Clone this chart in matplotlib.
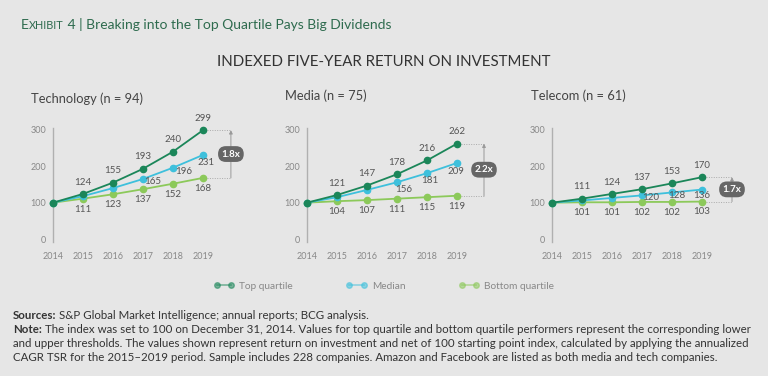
import matplotlib
matplotlib.use("Agg")
import matplotlib.pyplot as plt
from matplotlib.lines import Line2D

plt.rcParams['font.family'] = ['Lato', 'DejaVu Sans']

# data
years = [2014, 2015, 2016, 2017, 2018, 2019]
panels = ["Technology (n = 94)", "Media (n = 75)", "Telecom (n = 61)"]
top_quartile = [
    [100, 124, 155, 193, 240, 299],
    [100, 121, 147, 178, 216, 262],
    [100, 111, 124, 137, 153, 170],
]
median = [
    [100, 118, 140, 165, 196, 231],
    [100, 115, 135, 156, 181, 209],
    [100, 106, 113, 120, 128, 136],
]
bottom_quartile = [
    [100, 111, 123, 137, 152, 168],
    [100, 104, 107, 111, 115, 119],
    [100, 101, 101, 102, 102, 103],
]
series_names = ["Top quartile", "Median", "Bottom quartile"]

# styling
BG = "#e6e6e6"
C_TOP = "#1b8659"
C_MED = "#3ec0dc"
C_BOT = "#8cc95a"
TXT = "#555555"
W, H = 768, 376

# label offsets (px) for median values at 2017-2019
median_offsets = [
    [(10, -3), (11, -4), (3, -8)],
    [(7, -7), (3, -7), (-1, -9)],
    [(9, -2), (5, -3), (0, -6)],
]
axes_left_px = [53, 307, 552]
bracket_x = [2019.93, 2019.9, 2020.0]
title_x_px = [31, 285, 531]
title_y_px = [99, 96, 96]

fig = plt.figure(figsize=(W / 100, H / 100), dpi=100, facecolor=BG)
px = 72 / 100  # points per pixel

for i in range(3):
    ax = fig.add_axes([axes_left_px[i] / W, (H - 242) / H, 195 / W, 114 / H])
    ax.set_facecolor(BG)
    ax.set_xlim(2014, 2020.5)
    ax.set_ylim(-8, 305)
    for s in ["top", "right", "bottom"]:
        ax.spines[s].set_visible(False)
    ax.spines["left"].set_color("#b0b0b0")
    ax.spines["left"].set_linewidth(1)
    ax.set_yticks([0, 100, 200, 300])
    ax.set_xticks(years)
    ax.tick_params(axis="y", length=0, pad=5, labelsize=6.5, labelcolor="#888888")
    ax.tick_params(axis="x", length=0, pad=7, labelsize=6.5, labelcolor="#888888")

    for vals, col in [(bottom_quartile[i], C_BOT), (median[i], C_MED), (top_quartile[i], C_TOP)]:
        ax.plot(years, vals, color=col, lw=1.3, marker="o", ms=4.5, clip_on=False, zorder=3)

    for x, v in zip(years[1:], top_quartile[i][1:]):
        ax.annotate(str(v), (x, v), xytext=(0, 8.5), textcoords="offset points",
                    ha="center", va="center", fontsize=7, color=TXT)
    for x, v in zip(years[1:], bottom_quartile[i][1:]):
        ax.annotate(str(v), (x, v), xytext=(0, -7.5), textcoords="offset points",
                    ha="center", va="center", fontsize=7, color=TXT)
    for (dx, dy), x, v in zip(median_offsets[i], years[3:], median[i][3:]):
        ax.annotate(str(v), (x, v), xytext=(dx * px, dy * px), textcoords="offset points",
                    ha="center", va="center", fontsize=7, color=TXT)

    top, bot = top_quartile[i][-1], bottom_quartile[i][-1]
    bx = bracket_x[i]
    for v in (top, bot):
        ax.plot([years[-1] + 0.12, bx], [v, v], color="#aaaaaa", lw=0.7,
                ls=(0, (1, 1.5)), clip_on=False, zorder=1)
    ax.annotate("", xy=(bx, top), xytext=(bx, bot),
                arrowprops=dict(arrowstyle="-|>", color="#999999", lw=0.7,
                                mutation_scale=5, shrinkA=0, shrinkB=0))
    ax.text(bx, (top + bot) / 2, f"{top / bot:.1f}x", ha="center", va="center",
            fontsize=7, fontweight="bold", color="white", zorder=5,
            bbox=dict(boxstyle="round,pad=0.35,rounding_size=0.8", fc="#666666", ec="none"))

    fig.text(title_x_px[i] / W, 1 - title_y_px[i] / H, panels[i], ha="left", va="center",
             fontsize=9.3, color="#444444")

renderer = fig.canvas.get_renderer()


def run_text(x_px, base_px, parts):
    # draw text pieces one after another on the same baseline
    x = x_px
    for s, kw in parts:
        t = fig.text(x / W, 1 - base_px / H, s, ha="left", va="baseline", **kw)
        x = t.get_window_extent(renderer).x1


green = "#2e6b4e"
run_text(21, 29, [("E", dict(fontsize=10, color=green)),
                  ("XHIBIT", dict(fontsize=7.8, color=green)),
                  (" 4 | Breaking into the Top Quartile Pays Big Dividends", dict(fontsize=10, color=green))])

fig.text(0.5, 1 - 62 / H, "INDEXED FIVE-YEAR RETURN ON INVESTMENT", ha="center", va="center",
         fontsize=10.8, color="#333333")

handles = [Line2D([], [], color=c, lw=1.2, alpha=0.55, marker="o", ms=4,
                  markerfacecolor=c, markeredgecolor=c)
           for c in (C_TOP, C_MED, C_BOT)]
fig.legend(handles, series_names, loc="center", bbox_to_anchor=(0.5, 1 - 286 / H), ncol=3,
           frameon=False, numpoints=2, handlelength=2.0, handletextpad=0.5, columnspacing=5.3,
           fontsize=7.3, labelcolor="#888888")

foot = dict(fontsize=8.3, color="#333333")
foot_b = dict(fontsize=8.3, color="#333333", fontweight="bold")
run_text(13, 319, [("Sources:", foot_b), (" S&P Global Market Intelligence; annual reports; BCG analysis.", foot)])
run_text(13, 333, [("Note:", foot_b), (" The index was set to 100 on December 31, 2014. Values for top quartile and bottom quartile performers represent the corresponding lower", foot)])
run_text(13, 347, [("and upper thresholds. The values shown represent return on investment and net of 100 starting point index, calculated by applying the annualized", foot)])
run_text(13, 361, [("CAGR TSR for the 2015\u20132019 period. Sample includes 228 companies. Amazon and Facebook are listed as both media and tech companies.", foot)])

fig.savefig("out.png", dpi=100, facecolor=BG)
